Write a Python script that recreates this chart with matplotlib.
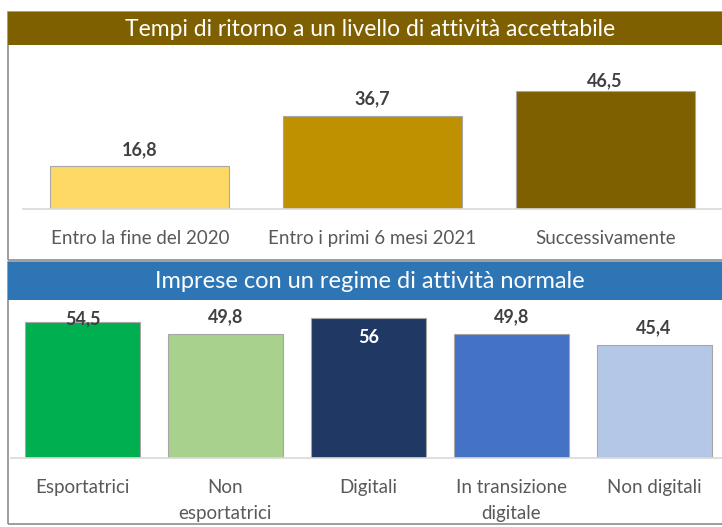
import matplotlib
matplotlib.use("Agg")
import matplotlib.pyplot as plt
from matplotlib.patches import Rectangle

# top panel data
top_title = "Tempi di ritorno a un livello di attività accettabile"
top_cats = ["Entro la fine del 2020", "Entro i primi 6 mesi 2021", "Successivamente"]
top_vals = [16.8, 36.7, 46.5]
top_colors = ["#FFD966", "#BF9000", "#7F6000"]

# bottom panel data
bot_title = "Imprese con un regime di attività normale"
bot_cats = ["Esportatrici", "Non\nesportatrici", "Digitali", "In transizione\ndigitale", "Non digitali"]
bot_vals = [54.5, 49.8, 56, 49.8, 45.4]
bot_colors = ["#00B050", "#A9D18E", "#1F3864", "#4472C4", "#B4C7E7"]

W, H = 722, 527
plt.rcParams["font.family"] = ["Lato", "DejaVu Sans"]

fig = plt.figure(figsize=(W / 100, H / 100), dpi=100)
fig.patch.set_facecolor("white")


def fx(px):
    return px / W


def fy(py):
    # pixel y from top -> figure fraction from bottom
    return 1 - py / H


def frame(x0, y0, x1, y1, color="#8C8C8C", lw=1.2):
    fig.patches.append(Rectangle((fx(x0), fy(y1)), fx(x1 - x0), (y1 - y0) / H,
                                 transform=fig.transFigure, fill=False,
                                 edgecolor=color, linewidth=lw, zorder=0))


def header(y0, y1, color, text, size):
    fig.patches.append(Rectangle((fx(8), fy(y1)), fx(W - 8), (y1 - y0) / H,
                                 transform=fig.transFigure, facecolor=color,
                                 edgecolor="none", zorder=1))
    fig.text(fx(370), fy((y0 + y1) / 2 + 1), text, color="white", fontsize=size,
             ha="center", va="center", zorder=2)


def panel(ax, cats, vals, colors, width, offsets, label_colors, ymax):
    x = range(len(vals))
    ax.bar(x, vals, width=width, color=colors, edgecolor="#A6A6A6", linewidth=0.8, zorder=2)
    for xi, v, off, lc in zip(x, vals, offsets, label_colors):
        txt = f"{v:g}".replace(".", ",")
        ax.annotate(txt, (xi, v), xytext=(0, off), textcoords="offset points",
                    ha="center", va="center", fontsize=13, fontweight="bold",
                    color=lc, zorder=3)
    ax.set_xlim(-0.5, len(vals) - 0.5)
    ax.set_ylim(0, ymax)
    ax.set_xticks(list(x))
    ax.set_xticklabels(cats, fontsize=13.5, color="#595959", linespacing=1.65)
    ax.tick_params(axis="x", length=0, pad=15)
    ax.set_yticks([])
    for s in ["top", "right", "left"]:
        ax.spines[s].set_visible(False)
    ax.spines["bottom"].set_color("#D9D9D9")
    ax.spines["bottom"].set_linewidth(1.2)
    ax.patch.set_alpha(0)


# panel frames
frame(8, 12, W + 5, 260)
frame(8, 262, W + 5, 524)

header(12, 45, "#7F6000", top_title, 16.5)
header(262, 300, "#2E75B6", bot_title, 17)

# top bars axes: baseline at y=209 px
ax1 = fig.add_axes([fx(23.5), fy(209), fx(698), (209 - 50) / H])
panel(ax1, top_cats, top_vals, top_colors, 0.77,
      [12, 12, 7], ["#404040"] * 3, 159 / 2.54)

# bottom bars axes: baseline at y=458 px
ax2 = fig.add_axes([fx(11), fy(458), fx(714.5), (458 - 305) / H])
panel(ax2, bot_cats, bot_vals, bot_colors, 0.805,
      [2, 12, -14, 12, 12], ["#404040", "#404040", "white", "#404040", "#404040"], 153 / 2.5)

fig.savefig("out.png", dpi=100, facecolor="white")
